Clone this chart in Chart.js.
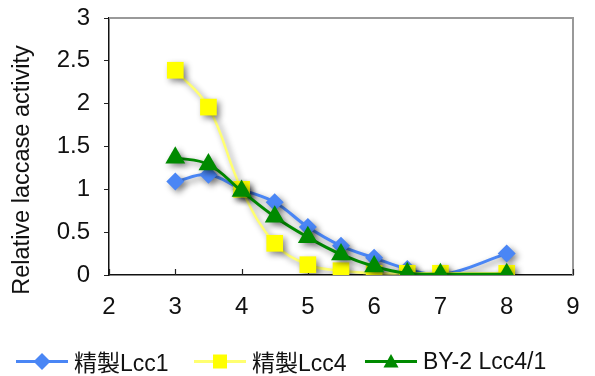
<!DOCTYPE html>
<html>
<head>
<meta charset="utf-8">
<script src="https://cdn.jsdelivr.net/npm/chart.js@4/dist/chart.umd.min.js"></script>
<style>
  html, body { margin: 0; padding: 0; background: #fff; }
  #wrap { position: relative; width: 595px; height: 376px; }
  #c { position: absolute; left: 0; top: 0; }
  .leg { position: absolute; top: 347px; height: 28px; display: flex; align-items: center;
         font-family: "Liberation Sans", Arial, "Noto Sans CJK JP", sans-serif; font-size: 23px; color: #111; white-space: nowrap; }
  .leg svg { display: block; margin-right: 5px; }
</style>
</head>
<body>
<div id="wrap">
  <canvas id="c" width="595" height="376"></canvas>
  <div class="leg" id="leg0" style="left:16px"></div>
  <div class="leg" id="leg1" style="left:194px"></div>
  <div class="leg" id="leg2" style="left:365px"></div>
</div>
<script>
// ---- data ----
const xValues   = [3, 3.5, 4, 4.5, 5, 5.5, 6, 6.5, 7, 8];
const lcc1      = [1.09, 1.17, 1.00, 0.85, 0.56, 0.34, 0.20, 0.07, 0.00, 0.25];
const lcc4      = [2.39, 1.96, 1.00, 0.37, 0.12, 0.05, 0.02, 0.02, 0.02, 0.02];
const by2       = [1.37, 1.29, 0.98, 0.68, 0.44, 0.24, 0.10, 0.02, 0.01, 0.01];
const seriesNames = ['精製Lcc1', '精製Lcc4', 'BY-2 Lcc4/1'];
const xTicks = [2, 3, 4, 5, 6, 7, 8, 9];
const yTicks = [0, 0.5, 1, 1.5, 2, 2.5, 3];
const yTitle = 'Relative laccase activity';

const pts = arr => xValues.map((x, i) => ({ x: x, y: arr[i] }));

const FONT = '"Liberation Sans", Arial, sans-serif';

const shadowPlugin = {
  id: 'shadow',
  beforeDatasetDraw(chart) {
    const ctx = chart.ctx;
    ctx.save();
    ctx.shadowColor = 'rgba(0,0,0,0.45)';
    ctx.shadowBlur = 6;
    ctx.shadowOffsetX = 3;
    ctx.shadowOffsetY = 3;
  },
  afterDatasetDraw(chart) { chart.ctx.restore(); }
};

const framePlugin = {
  id: 'frame',
  beforeDatasetsDraw(chart) {
    const { ctx, chartArea: a, scales } = chart;
    ctx.save();
    ctx.strokeStyle = '#999';
    ctx.lineWidth = 2;
    ctx.beginPath();
    ctx.moveTo(a.left, a.top);
    ctx.lineTo(a.right, a.top);
    ctx.lineTo(a.right, a.bottom);
    ctx.stroke();
    ctx.strokeStyle = '#222';
    ctx.lineWidth = 1.2;
    ctx.beginPath();
    xTicks.forEach(v => {
      const px = Math.round(scales.x.getPixelForValue(v)) + 0.5;
      ctx.moveTo(px, a.bottom);
      ctx.lineTo(px, a.bottom - 6);
    });
    ctx.stroke();
    ctx.fillStyle = '#111';
    ctx.font = '23.5px ' + FONT;
    ctx.textAlign = 'center';
    ctx.textBaseline = 'middle';
    ctx.translate(23, 170);
    ctx.rotate(-Math.PI / 2);
    ctx.fillText(yTitle, 0, 0);
    ctx.restore();
  }
};

const colors = ['#4a86f5', '#ffff00', '#008a00'];
const lineColors = ['#4a86f5', '#ffff70', '#008a00'];

new Chart(document.getElementById('c'), {
  type: 'line',
  data: {
    datasets: [
      { label: seriesNames[0], data: pts(lcc1), borderColor: lineColors[0], backgroundColor: colors[0],
        borderWidth: 3, pointStyle: 'rectRot', pointRadius: 9, pointBorderWidth: 0, tension: 0.4, order: 2 },
      { label: seriesNames[1], data: pts(lcc4), borderColor: lineColors[1], backgroundColor: colors[1],
        borderWidth: 2.5, pointStyle: 'rect', pointRadius: 11.8, pointBorderWidth: 0, tension: 0.4, order: 1 },
      { label: seriesNames[2], data: pts(by2), borderColor: lineColors[2], backgroundColor: colors[2],
        borderWidth: 3, pointStyle: 'triangle', pointRadius: 11.5, pointBorderWidth: 0, tension: 0.4, order: 0 }
    ]
  },
  options: {
    responsive: false,
    animation: false,
    layout: { padding: { left: 0, top: 18, right: 22, bottom: 56 } },
    plugins: { legend: { display: false }, tooltip: { enabled: false } },
    scales: {
      x: {
        type: 'linear', min: 2, max: 9,
        afterBuildTicks: s => { s.ticks = xTicks.map(v => ({ value: v })); },
        afterFit: s => { s.height = 45; s.paddingLeft = 0; s.paddingRight = 0; },
        grid: { drawOnChartArea: false, drawTicks: false },
        border: { color: '#111', width: 1.5 },
        ticks: { color: '#111', font: { family: FONT, size: 24 }, padding: 18, callback: v => String(v) }
      },
      y: {
        min: 0, max: 3,
        afterBuildTicks: s => { s.ticks = yTicks.map(v => ({ value: v })); },
        afterFit: s => { s.width = 109; s.paddingTop = 0; s.paddingBottom = 0; },
        grid: { drawOnChartArea: false, drawTicks: true, tickLength: 5, color: '#222' },
        border: { color: '#111', width: 1.5 },
        ticks: { color: '#111', font: { family: FONT, size: 24 }, padding: 14, callback: v => String(v) }
      }
    }
  },
  plugins: [framePlugin, shadowPlugin]
});

function markerSvg(i) {
  const c = colors[i], lc = lineColors[i];
  let m = '';
  if (i === 0) m = `<polygon points="26,5 34.5,13.5 26,22 17.5,13.5" fill="${c}"/>`;
  else if (i === 1) m = `<rect x="19" y="6.5" width="14" height="14" fill="${c}"/>`;
  else m = `<polygon points="26,6 33.5,19.5 18.5,19.5" fill="${c}"/>`;
  return `<svg width="53" height="27" viewBox="0 0 53 27"><line x1="0" y1="13.5" x2="52" y2="13.5" stroke="${lc}" stroke-width="3"/>${m}</svg>`;
}
seriesNames.forEach((n, i) => {
  const el = document.getElementById('leg' + i);
  el.innerHTML = markerSvg(i) + '<span>' + n + '</span>';
});
</script>
</body>
</html>
